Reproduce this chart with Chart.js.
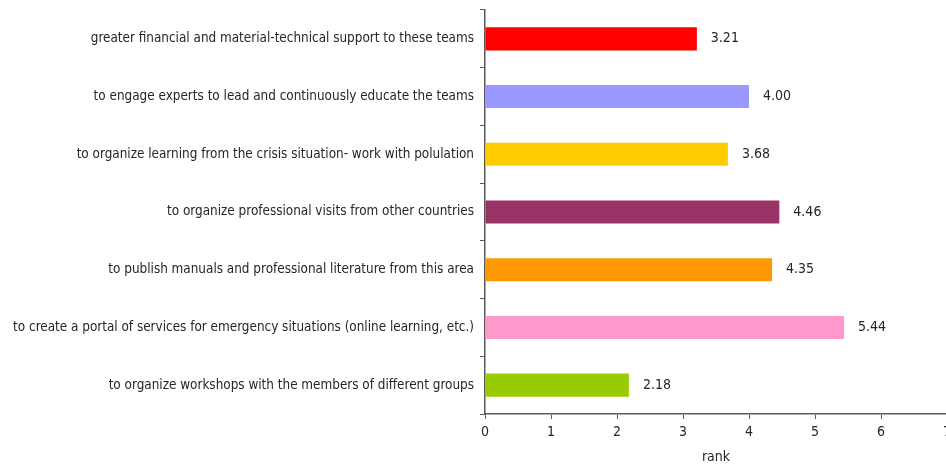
<!DOCTYPE html>
<html>
<head>
<meta charset="utf-8">
<script src="https://cdn.jsdelivr.net/npm/chart.js@4"></script>
<style>
    html, body { margin: 0; padding: 0; overflow: hidden; background: #fff; }
    #wrap { width: 960px; height: 466px; }
</style>
</head>
<body>
<div id="wrap"><canvas id="rankChart" width="960" height="466"></canvas></div>
<script>
// Chart data
const categories = [
    'greater financial and material-technical support to these teams',
    'to engage experts to lead and continuously educate the teams',
    'to organize learning from the crisis situation- work with polulation',
    'to organize professional visits from other countries',
    'to publish manuals and professional literature from this area',
    'to create a portal of services for emergency situations (online learning, etc.)',
    'to organize workshops with the members of different groups'
];
const rankValues = [3.21, 4.00, 3.68, 4.46, 4.35, 5.44, 2.18];
const barColors = ['#ff0000', '#9999ff', '#ffcc00', '#993366', '#ff9900', '#ff99cc', '#99cc00'];
const xTicks = [0, 1, 2, 3, 4, 5, 6, 7];

const fontFamily = "'DejaVu Sans Condensed', sans-serif";
const axisColor = '#595959';
const textColor = '#262626';

/**
 * Draw value labels to the right of each bar
 */
const valueLabels = {
    id: 'valueLabels',
    afterDatasetsDraw(chart) {
        const ctx = chart.ctx;
        const meta = chart.getDatasetMeta(0);
        ctx.save();
        ctx.font = '14px ' + fontFamily;
        ctx.fillStyle = textColor;
        ctx.textAlign = 'left';
        ctx.textBaseline = 'middle';
        meta.data.forEach(function(bar, i) {
            ctx.fillText(rankValues[i].toFixed(2), bar.x + 14, bar.y);
        });
        ctx.restore();
    }
};

new Chart(document.getElementById('rankChart'), {
    type: 'bar',
    data: {
        labels: categories,
        datasets: [{
            data: rankValues,
            backgroundColor: barColors,
            borderWidth: 0,
            categoryPercentage: 1,
            barPercentage: 0.4
        }]
    },
    options: {
        indexAxis: 'y',
        responsive: false,
        animation: false,
        layout: {
            padding: { top: 10, right: 13, bottom: 0, left: 0 }
        },
        plugins: {
            legend: { display: false },
            tooltip: { enabled: false }
        },
        scales: {
            x: {
                min: 0,
                max: 7,
                afterBuildTicks: function(scale) {
                    scale.ticks = xTicks.map(v => ({ value: v }));
                },
                afterFit: function(scale) {
                    scale.height = 52;
                },
                grid: {
                    drawOnChartArea: false,
                    drawTicks: true,
                    tickLength: 5,
                    color: axisColor,
                    lineWidth: 1
                },
                border: { color: axisColor, width: 1.5 },
                ticks: {
                    color: textColor,
                    padding: 5,
                    font: { family: fontFamily, size: 14 }
                },
                title: {
                    display: true,
                    text: 'rank',
                    color: textColor,
                    padding: { top: 3, bottom: 0 },
                    font: { family: fontFamily, size: 14 }
                }
            },
            y: {
                afterFit: function(scale) {
                    scale.width = 485;
                    scale.paddingTop = 0;
                    scale.paddingBottom = 0;
                },
                grid: {
                    offset: true,
                    drawOnChartArea: false,
                    tickLength: 5,
                    color: axisColor,
                    lineWidth: 1
                },
                border: { color: axisColor, width: 1.5 },
                ticks: {
                    color: textColor,
                    padding: 6,
                    autoSkip: false,
                    font: { family: fontFamily, size: 13.4 }
                }
            }
        }
    },
    plugins: [valueLabels]
});
</script>
</body>
</html>
